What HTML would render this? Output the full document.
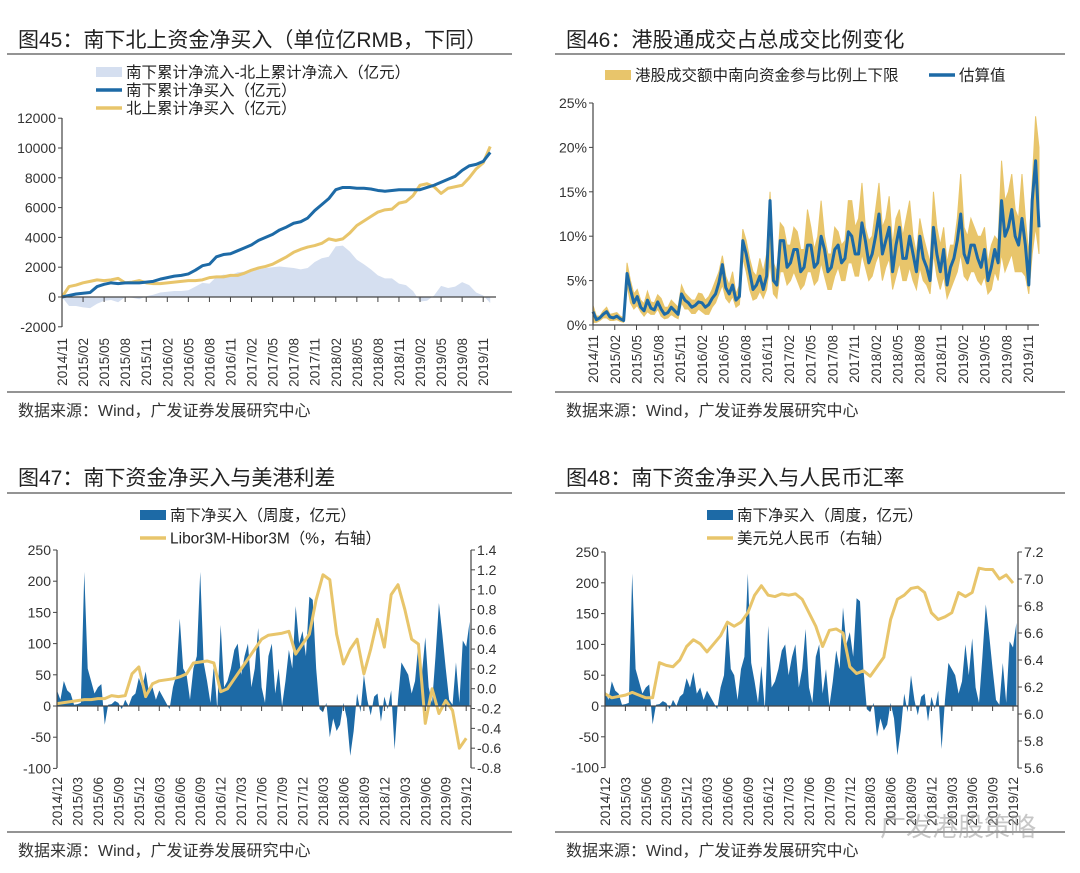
<!DOCTYPE html>
<html><head><meta charset="utf-8">
<style>
html,body{margin:0;padding:0;background:#fff;}
body{width:1080px;height:873px;overflow:hidden;position:relative;font-family:"Liberation Sans","Noto Sans CJK SC",sans-serif;}
svg{position:absolute;left:0;top:0;}
</style></head>
<body>
<svg id="chart" width="1080" height="873" viewBox="0 0 1080 873" xmlns="http://www.w3.org/2000/svg"></svg>
<script>
// ---------- DATA ----------
// Panel 45 (monthly from 2014/11)
const p45Labels = ["2014/11","2015/02","2015/05","2015/08","2015/11","2016/02","2016/05","2016/08","2016/11","2017/02","2017/05","2017/08","2017/11","2018/02","2018/05","2018/08","2018/11","2019/02","2019/05","2019/08","2019/11"];
const p45Ticks = [12000,10000,8000,6000,4000,2000,0,-2000];
const southCum = [0,100,200,250,300,700,850,950,900,950,950,950,1000,1050,1200,1300,1400,1450,1550,1800,2100,2200,2700,2850,2900,3100,3300,3500,3800,4000,4200,4500,4700,4950,5050,5300,5800,6200,6600,7200,7350,7350,7300,7300,7250,7150,7100,7150,7200,7200,7200,7200,7350,7500,7700,7900,8100,8500,8800,8900,9100,9700];
const northCum = [0,700,800,950,1050,1150,1100,1150,1250,950,1000,1100,950,900,900,950,1000,1050,1100,1100,1150,1300,1350,1350,1450,1450,1600,1800,1950,2050,2200,2450,2700,3000,3200,3350,3450,3600,3900,3800,3900,4300,4800,5100,5400,5700,5850,5900,6300,6400,6800,7500,7600,7400,6950,7300,7400,7500,8000,8600,9000,10100];
// Panel 46 (semi-monthly)
const p46Labels = p45Labels;
const p46Ticks = [25,20,15,10,5,0];
const estVal = [1.5,0.6,0.8,1.2,1.5,0.9,0.8,1.0,0.7,0.5,5.8,4.0,2.5,3.2,2.0,1.6,2.8,1.9,1.7,2.6,1.8,1.2,1.4,2.0,1.6,1.2,3.5,2.8,2.5,2.0,2.2,2.6,2.5,2.0,2.3,3.0,3.5,4.8,6.8,4.2,3.5,4.5,2.8,3.2,9.5,8.0,6.0,4.0,4.5,5.5,4.0,5.5,14,5.0,4.5,9.5,9.5,6.5,7,8.5,8.5,6.0,6.5,9.0,9,6.5,7,10,8.5,6.0,6.5,8.5,9,7.0,7.5,10.5,10,8.0,8,11.5,9.5,7.0,8,10.0,12.5,8.0,9.5,11,6,9.0,11,7.5,7.5,10,8,6.0,10,7.5,6.5,5.0,11,8.0,6,8.5,4.5,6.5,7.5,9.5,12.5,8.0,7,9.0,9,7.5,6.5,8.5,5,6.5,8.5,7.0,14,10,11,13,10,9.0,12,9.0,4.5,14,18.5,11];
const upperVal = [2.2,1.0,1.0,1.6,2.0,1.2,1.3,1.4,1.0,0.8,7.0,5.0,3.5,4.0,2.8,2.4,3.8,2.6,2.5,3.4,3.0,2.0,2.0,2.8,2.4,2.0,4.5,3.6,3.2,2.8,2.8,3.6,3.5,2.8,3.2,4.0,5.0,6.0,7.8,5.5,4.5,6.0,3.5,4.5,10.8,9.5,7.5,6.0,5.5,7.5,6.0,8.0,15,7.0,6.0,11.5,11,9.0,9,11,10.5,8.5,8.5,13,11,8.5,10,14,10,8.0,8,11,10.5,9.0,9.5,14,14,11,12,16,11,9.5,10,13,16,11,12,14.5,9,12,13,10,12,14,10,8.0,12,10,8.5,7.0,15,11,9,11,7,9.0,9,12,17,11,10,12,11,10,10,11,7,9.0,10,9.5,18.5,14,15,17,13,12,17,12,8,16,23.5,20];
const lowerVal = [0.3,0.3,0.5,0.8,0.8,0.5,0.5,0.6,0.4,0.3,4.5,2.5,1.8,2.2,1.5,1.0,1.5,1.2,1.2,1.8,1.0,0.7,0.8,1.2,0.9,0.7,2.5,1.8,1.8,1.3,1.3,1.8,1.5,1.2,1.2,2.0,2.5,3.5,4.5,3.0,2.5,3.2,2.0,2.3,7.5,6.0,4.0,2.8,3.0,3.8,3.0,4.0,7,3.5,3.0,6.0,6,4.5,5,6.0,5,4.0,4.5,6.0,6,4.5,5,7.0,5.5,4.0,4,5.5,6.5,5.0,5,7.0,7,5.5,5.5,8.0,6.5,5.0,5.5,7.0,8,5.0,6.5,7.5,4,5.5,7,5.0,5,6.5,5,4.0,6.5,5.0,4.5,3.5,8,5.5,4,5.5,3,4.0,5,6.0,8,5.5,5,6.0,6,5.0,4.5,5.5,3.5,4.0,6,5.0,8,6.0,7,8.0,6,6.0,6,5.5,3.5,8.0,11,8];
// Panels 47/48 (semi-monthly from 2014/12)
const p47Labels = ["2014/12","2015/03","2015/06","2015/09","2015/12","2016/03","2016/06","2016/09","2016/12","2017/03","2017/06","2017/09","2017/12","2018/03","2018/06","2018/09","2018/12","2019/03","2019/06","2019/09","2019/12"];
const leftTicks = [250,200,150,100,50,0,-50,-100];
const spreadTicks = ["1.4","1.2","1.0","0.8","0.6","0.4","0.2","0.0","-0.2","-0.4","-0.6","-0.8"];
const cnyTicks = ["7.2","7.0","6.8","6.6","6.4","6.2","6.0","5.8","5.6"];
const southWeekly = [25,10,40,25,20,2,3,5,215,60,40,20,30,35,-30,2,3,8,5,-5,10,0,15,20,45,30,55,20,30,10,25,15,5,-5,30,50,140,60,50,10,60,80,215,70,40,5,65,-5,130,30,40,60,90,100,50,80,100,30,60,125,30,5,80,100,20,60,0,40,90,60,160,100,120,80,175,170,60,-5,-10,5,-50,-20,-40,-30,5,-20,-80,-40,20,-10,50,10,-15,15,20,-25,15,-5,25,-70,10,70,60,50,20,40,100,50,110,30,5,80,165,115,60,10,2,70,5,105,95,135];
const spreadVal = [-0.15,-0.14,-0.13,-0.12,-0.11,-0.11,-0.10,-0.10,-0.07,-0.08,-0.07,0.15,0.22,-0.08,0.05,0.08,0.09,0.10,0.12,0.15,0.26,0.27,0.28,0.26,-0.03,0.0,0.1,0.2,0.3,0.4,0.5,0.54,0.55,0.56,0.58,0.35,0.45,0.55,0.9,1.15,1.1,0.55,0.25,0.4,0.5,0.15,0.4,0.7,0.42,0.95,1.05,0.8,0.5,0.45,-0.35,0.0,-0.25,-0.12,-0.22,-0.6,-0.5];
const cnyVal = [6.15,6.12,6.13,6.14,6.16,6.14,6.12,6.12,6.38,6.36,6.35,6.40,6.50,6.55,6.52,6.46,6.52,6.58,6.68,6.65,6.68,6.75,6.88,6.95,6.88,6.87,6.89,6.88,6.89,6.85,6.75,6.65,6.50,6.62,6.63,6.60,6.35,6.30,6.32,6.28,6.35,6.42,6.70,6.85,6.88,6.93,6.94,6.90,6.75,6.70,6.72,6.75,6.90,6.87,6.90,7.08,7.07,7.07,7.00,7.03,6.97];

// ---------- HELPERS ----------
const NS="http://www.w3.org/2000/svg";
const svg=document.getElementById('chart');
function mk(tag,attrs,parent){const e=document.createElementNS(NS,tag);for(const k in attrs)e.setAttribute(k,attrs[k]);(parent||svg).appendChild(e);return e;}
function txt(s,attrs,parent){const e=mk('text',attrs,parent);e.textContent=s;return e;}
const BLUE="#1d6aa6", GOLD="#e8c56b", AREA="#d5dff0", INK="#333";
const FONT='"Liberation Sans","Noto Sans CJK SC",sans-serif';

function header(x1,x2,ty,title,ry){
  const t=txt(title,{x:x1+11,y:ty,'font-size':21,'font-family':FONT,fill:'#222'});
  
  
  const r=mk('line',{x1:x1,x2:x2,y1:ry,y2:ry,stroke:'#555','stroke-width':1.2});
  
  
}
function footer(x1,x2,ry,ty){
  const r=mk('line',{x1:x1,x2:x2,y1:ry,y2:ry,stroke:'#555','stroke-width':1.2});
  
  
  const t=txt('数据来源：Wind，广发证券发展研究中心',{x:x1+11,y:ty,'font-size':16,'font-family':FONT,fill:'#333'});
  
  
}
function xLabels(labels,xf,top){
  labels.forEach((l,i)=>{
    const x=xf(i*3);
    const t=txt(l,{x:0,y:0,'font-size':13.5,'font-family':FONT,fill:INK,'text-anchor':'end',transform:`translate(${x+5},${top}) rotate(-90)`});
    
    
  });
}
function axisLine(x1,y1,x2,y2){const l=mk('line',{x1,y1,x2,y2,stroke:'#444','stroke-width':1.2});return l;}
function legSwatch(x,y,color,kind,label){
  const g=mk('g',{});
  
  
  if(kind==='box') mk('rect',{x:x,y:y-5,width:26,height:10,fill:color},g);
  else mk('line',{x1:x,x2:x+26,y1:y,y2:y,stroke:color,'stroke-width':3.5},g);
  txt(label,{x:x+30,y:y+5.5,'font-size':15.5,'font-family':FONT,fill:'#222'},g);
}

// ---------- PANEL 45 ----------
header(7,512,47,'图45：南下北上资金净买入（单位亿RMB，下同）',54);
{
  const X0=62,W=7.02,xf=m=>X0+m*W,yf=v=>297-v/2000*29.8;
  const g=mk('g',{});
  
  
  let d=`M${xf(0)},${yf(0)}`;
  southCum.forEach((s,i)=>{d+=` L${xf(i)},${yf(s-northCum[i])}`;});
  d+=` L${xf(southCum.length-1)},${yf(0)} Z`;
  const ar=mk('path',{d,fill:AREA},g);
  
  
  const ln=(arr,c,name)=>{const p=mk('path',{d:arr.map((v,i)=>(i?'L':'M')+xf(i)+','+yf(v)).join(' '),fill:'none',stroke:c,'stroke-width':3,'stroke-linejoin':'round'},g);
    
    };
  ln(northCum,GOLD,'northbound-line');
  ln(southCum,BLUE,'southbound-line');
  axisLine(X0,118,X0,327);
  axisLine(X0,297,496,297);
  p45Ticks.forEach(v=>{mk('line',{x1:X0-4,x2:X0,y1:yf(v),y2:yf(v),stroke:'#444'});
    const t=txt(String(v),{x:X0-6,y:yf(v)+5,'font-size':14,'font-family':FONT,fill:INK,'text-anchor':'end'});
    
    });
  p45Labels.forEach((l,i)=>mk('line',{x1:xf(i*3),x2:xf(i*3),y1:297,y2:302,stroke:'#444'}));
  xLabels(p45Labels,xf,338);
  legSwatch(96,72,AREA,'box','南下累计净流入-北上累计净流入（亿元）');
  legSwatch(96,90,BLUE,'line','南下累计净买入（亿元）');
  legSwatch(96,108,GOLD,'line','北上累计净买入（亿元）');
}
footer(7,512,392,416);

// ---------- PANEL 46 ----------
header(555,1065,47,'图46：港股通成交占总成交比例变化',54);
{
  const X0=593,X1=1039,yf=v=>325-v/25*222;
  const xfn=n=>i=>X0+i*(X1-X0)/(n-1);
  const xu=xfn(upperVal.length), xl=xfn(lowerVal.length), xe=xfn(estVal.length);
  const mxf=m=>X0+m*21.75/3;
  const g=mk('g',{});
  
  
  let d=upperVal.map((v,i)=>(i?'L':'M')+xu(i)+','+yf(v)).join(' ');
  for(let i=lowerVal.length-1;i>=0;i--) d+=` L${xl(i)},${yf(lowerVal[i])}`;
  const band=mk('path',{d:d+' Z',fill:GOLD,stroke:GOLD,'stroke-width':1},g);
  
  
  const e=mk('path',{d:estVal.map((v,i)=>(i?'L':'M')+xe(i)+','+yf(v)).join(' '),fill:'none',stroke:BLUE,'stroke-width':3,'stroke-linejoin':'round'},g);
  
  
  axisLine(X0,103,X0,325);
  axisLine(X0,325,X1,325);
  p46Ticks.forEach(v=>{mk('line',{x1:X0-4,x2:X0,y1:yf(v),y2:yf(v),stroke:'#444'});
    const t=txt(v+'%',{x:X0-6,y:yf(v)+5,'font-size':14,'font-family':FONT,fill:INK,'text-anchor':'end'});
    
    });
  p46Labels.forEach((l,i)=>mk('line',{x1:mxf(i*3),x2:mxf(i*3),y1:325,y2:330,stroke:'#444'}));
  xLabels(p46Labels,mxf,335);
  legSwatch(605,75,GOLD,'box','港股成交额中南向资金参与比例上下限');
  legSwatch(929,75,BLUE,'line','估算值');
}
footer(555,1065,392,416);

// ---------- PANEL 47 / 48 ----------
function dualPanel(cfg){
  const {X0,X1,yTop,yBot,zeroY,W,rTicks,rMin,rMax,lineVals,lineName,legLine,L}=cfg;
  const xf=m=>X0+m*W;
  const yl=v=>zeroY-v*(zeroY-yTop)/250;
  const yr=v=>yTop+(rMax-v)/(rMax-rMin)*(yBot-yTop);
  const g=mk('g',{});
  
  
  let d=`M${xf(0)},${yl(0)}`;
  southWeekly.forEach((v,i)=>{d+=` L${xf(i/2)},${yl(v)}`;});
  d+=` L${xf((southWeekly.length-1)/2)},${yl(0)} Z`;
  const a=mk('path',{d,fill:BLUE},g);
  
  
  const ln=mk('path',{d:lineVals.map((v,i)=>(i?'L':'M')+xf(i)+','+yr(v)).join(' '),fill:'none',stroke:GOLD,'stroke-width':3,'stroke-linejoin':'round'},g);
  
  
  axisLine(X0,yTop,X0,yBot);
  axisLine(X1,yTop,X1,yBot);
  axisLine(X0,zeroY,X1,zeroY);
  leftTicks.forEach(v=>{mk('line',{x1:X0-4,x2:X0,y1:yl(v),y2:yl(v),stroke:'#444'});
    const t=txt(String(v),{x:X0-6,y:yl(v)+5,'font-size':14,'font-family':FONT,fill:INK,'text-anchor':'end'});
    
    });
  rTicks.forEach(s=>{const v=parseFloat(s);mk('line',{x1:X1,x2:X1+4,y1:yr(v),y2:yr(v),stroke:'#444'});
    const t=txt(s,{x:X1+6,y:yr(v)+5,'font-size':14,'font-family':FONT,fill:INK});
    
    });
  p47Labels.forEach((l,i)=>mk('line',{x1:xf(i*3),x2:xf(i*3),y1:zeroY,y2:zeroY+5,stroke:'#444'}));
  xLabels(p47Labels,xf,777);
  legSwatch(L,515,BLUE,'box','南下净买入（周度，亿元）');
  legSwatch(L,538,GOLD,'line',legLine);
}
header(7,512,485,'图47：南下资金净买入与美港利差',493);
dualPanel({name:'chart-47',X0:57,X1:471,yTop:550,yBot:768,zeroY:706,W:6.82,rTicks:spreadTicks,rMin:-0.8,rMax:1.4,lineVals:spreadVal,lineName:'libor-hibor-spread-line',legLine:'Libor3M-Hibor3M（%，右轴）',L:140});
footer(7,512,832,856);

header(555,1065,485,'图48：南下资金净买入与人民币汇率',493);
dualPanel({name:'chart-48',X0:605,X1:1018,yTop:552,yBot:768,zeroY:706,W:6.8,rTicks:cnyTicks,rMin:5.6,rMax:7.2,lineVals:cnyVal,lineName:'usdcny-line',legLine:'美元兑人民币（右轴）',L:707});
footer(555,1065,832,856);

const wm=txt('广发港股策略',{x:880,y:836,'font-size':26,'font-family':FONT,fill:'#999','fill-opacity':0.55});


</script>
</body></html>
